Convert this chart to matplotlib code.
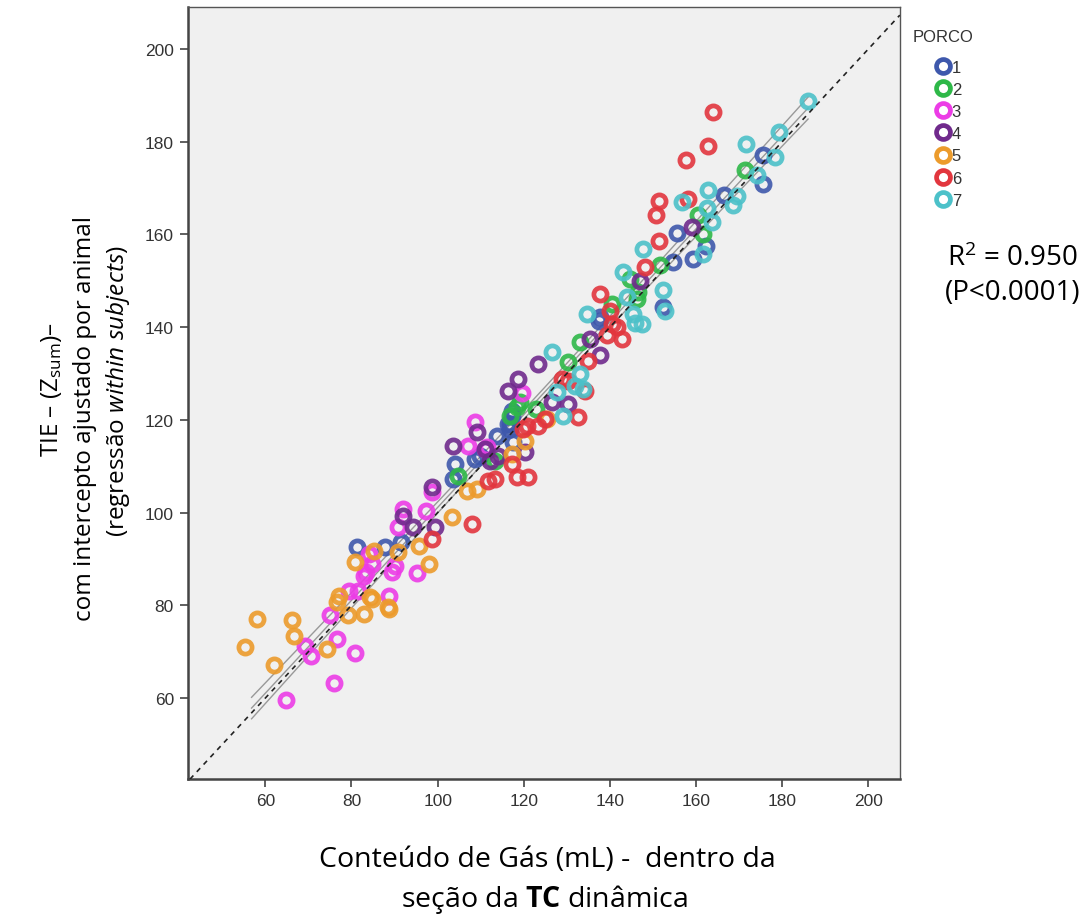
import numpy as np
import matplotlib.pyplot as plt

plt.rcParams['font.family'] = ['Open Sans', 'DejaVu Sans']
plt.rcParams['mathtext.fontset'] = 'custom'
plt.rcParams['mathtext.rm'] = 'Open Sans'
plt.rcParams['mathtext.it'] = 'Open Sans:italic'
plt.rcParams['mathtext.bf'] = 'Open Sans:bold'

# gas content (x) and TIE adjusted (y), one pair of lists per pig
pig1_x = [87.7, 91.6, 81.2, 104.0, 103.5, 109.8, 116.7, 117.4, 113.7, 117.2, 116.3, 116.7,
          137.4, 137.7, 152.3, 154.7, 159.3, 155.6, 162.3, 166.5, 175.6, 175.6, 117.2, 108.6]
pig1_y = [92.5, 93.6, 92.5, 110.4, 107.2, 112.2, 119.1, 115.2, 116.5, 121.9, 119.1, 118.0,
          141.3, 142.1, 144.3, 154.0, 154.6, 160.4, 157.4, 168.6, 177.2, 170.8, 120.8, 111.5]

pig2_x = [104.7, 113.3, 119.1, 116.7, 122.8, 133.0, 130.2, 140.5, 146.3, 146.5, 144.7,
          151.6, 160.5, 161.6, 171.4, 118.4]
pig2_y = [107.8, 111.1, 123.8, 120.8, 122.3, 136.9, 132.4, 144.9, 146.0, 147.5, 150.3,
          153.5, 164.3, 160.0, 174.0, 122.7]

pig3_x = [64.7, 76.0, 80.7, 70.7, 69.1, 76.7, 74.9, 88.6, 95.3, 89.5, 79.5, 81.6, 83.3,
          84.7, 84.0, 83.0, 91.9, 97.4, 90.7, 98.8, 107.0, 108.6, 111.4, 119.5, 90.0, 110.9]
pig3_y = [59.6, 63.2, 69.7, 69.1, 71.2, 72.7, 77.9, 82.0, 86.9, 87.2, 83.1, 83.1, 87.2,
          88.9, 91.0, 86.3, 100.7, 100.3, 96.9, 104.4, 114.3, 119.5, 114.1, 125.8, 88.4, 113.7]

pig4_x = [94.2, 99.3, 98.6, 109.1, 103.5, 110.9, 114.0, 120.2, 116.3, 118.6, 123.3,
          126.5, 130.2, 135.3, 137.7, 147.0, 159.1, 112.1, 91.9]
pig4_y = [96.9, 96.9, 105.5, 117.3, 114.3, 113.7, 112.2, 113.0, 126.2, 128.8, 132.0,
          123.8, 123.4, 137.4, 134.1, 149.9, 161.7, 111.1, 99.2]

pig5_x = [55.3, 58.1, 66.3, 66.7, 62.1, 74.2, 77.0, 76.7, 83.0, 79.1, 80.7, 85.3, 84.2,
          97.9, 95.6, 88.6, 90.9, 103.3, 106.7, 109.1, 117.2, 120.2, 84.7, 88.4, 125.3]
pig5_y = [71.0, 77.0, 76.8, 73.4, 67.1, 70.6, 82.0, 80.7, 78.1, 77.9, 89.3, 91.7, 81.8,
          88.9, 92.8, 79.2, 91.5, 99.0, 104.6, 105.0, 112.6, 115.4, 81.3, 79.6, 120.1]

pig6_x = [98.6, 107.9, 111.6, 113.3, 118.4, 120.9, 117.2, 120.7, 123.3, 119.8, 124.9,
          132.6, 128.8, 134.2, 134.9, 139.3, 141.6, 142.8, 140.0, 137.7, 148.1, 151.4,
          150.7, 151.4, 158.1, 157.7, 162.8, 164.0, 140.5, 130.2]
pig6_y = [94.3, 97.5, 106.8, 107.2, 107.6, 107.6, 110.4, 118.6, 118.6, 118.0, 120.1,
          120.6, 128.8, 126.2, 132.6, 138.4, 140.0, 137.4, 143.4, 147.1, 152.9, 158.5,
          164.3, 167.3, 167.7, 176.0, 179.0, 186.5, 140.6, 128.3]

pig7_x = [126.5, 133.0, 133.7, 127.7, 129.1, 131.9, 134.7, 143.0, 147.7, 144.0, 145.8,
          147.4, 152.3, 152.8, 156.7, 162.8, 169.5, 168.6, 163.7, 161.6, 162.6, 171.6,
          174.2, 178.4, 179.3, 186.0, 145.3]
pig7_y = [134.6, 129.8, 126.6, 126.0, 120.8, 127.2, 142.8, 151.8, 156.8, 146.6, 141.0,
          140.6, 148.1, 143.4, 166.9, 169.5, 168.2, 166.3, 162.6, 155.7, 165.6, 179.6,
          172.9, 176.8, 182.2, 188.7, 142.8]

pigs = ['1', '2', '3', '4', '5', '6', '7']
xs = [pig1_x, pig2_x, pig3_x, pig4_x, pig5_x, pig6_x, pig7_x]
ys = [pig1_y, pig2_y, pig3_y, pig4_y, pig5_y, pig6_y, pig7_y]
colors = ['#3E58AC', '#2EB848', '#EC3CE6', '#702A8C', '#EC9B2C', '#E2363E', '#4CC1C9']

fig = plt.figure(figsize=(10.92, 9.2), dpi=100)
ax = fig.add_axes([0.172, 0.152, 0.652, 0.839])
ax.set_facecolor('#F0F0F0')

handles = []
for x, y, c, name in zip(xs, ys, colors, pigs):
    h, = ax.plot(x, y, 'o', ms=9.5, mfc='none', mec=c, mew=3.4, ls='none',
                 label=name, zorder=3, alpha=0.9)
    handles.append(h)

# identity line
ax.axline((0, 0), slope=1, color='#222222', ls=(0, (3, 3)), lw=1.2, zorder=4)

# regression fit with 95% confidence band
allx = np.concatenate([np.array(v) for v in xs])
ally = np.concatenate([np.array(v) for v in ys])
b, a = np.polyfit(allx, ally, 1)
xx = np.linspace(allx.min() + 1.5, allx.max(), 100)
n = len(allx)
resid = ally - (a + b * allx)
s = np.sqrt(np.sum(resid ** 2) / (n - 2))
se = s * np.sqrt(1 / n + (xx - allx.mean()) ** 2 / np.sum((allx - allx.mean()) ** 2))
ax.plot(xx, a + b * xx, color='#999999', lw=1, zorder=2)
ax.plot(xx, a + b * xx + 1.97 * se, color='#999999', lw=1, zorder=2)
ax.plot(xx, a + b * xx - 1.97 * se, color='#999999', lw=1, zorder=2)

ax.set_xlim(42.0, 207.3)
ax.set_ylim(42.5, 209.0)
ax.set_xticks(range(60, 201, 20))
ax.set_yticks(range(60, 201, 20))
ax.tick_params(direction='out', length=6, width=1.2, color='#444444',
               labelsize=12.5, labelcolor='#333333', pad=4)
for lab in ax.get_xticklabels() + ax.get_yticklabels():
    lab.set_family('Liberation Sans')
for side in ['left', 'bottom']:
    ax.spines[side].set_linewidth(1.8)
    ax.spines[side].set_color('#444444')
for side in ['top', 'right']:
    ax.spines[side].set_linewidth(1)
    ax.spines[side].set_color('#555555')

fig.text(0.501, 0.065, 'Conteúdo de Gás (mL) -  dentro da', ha='center', va='center',
         fontsize=20.5)
fig.text(0.499, 0.022, 'seção da $\\mathbf{TC}$ dinâmica', ha='center', va='center',
         fontsize=20.5)

fig.text(0.047, 0.576, 'TIE – (Z$_{\\mathrm{sum}}$)–', rotation=90, ha='center',
         va='center', fontsize=17.5)
fig.text(0.078, 0.545, 'com intercepto ajustado por animal', rotation=90, ha='center',
         va='center', fontsize=17.5)
fig.text(0.108, 0.575, '(regressão $\\mathit{within\\ subjects}$)', rotation=90,
         ha='center', va='center', fontsize=17.5)

fig.text(913 / 1092, 1 - 37 / 920, 'PORCO', ha='left', va='center', fontsize=12,
         family='Liberation Sans', color='#333333')
leg = fig.legend(handles=handles, loc='upper left',
                 bbox_to_anchor=(0.857, 0.934), frameon=False,
                 prop={'family': 'Liberation Sans', 'size': 12},
                 handlelength=0.8, handletextpad=0.15,
                 labelspacing=0.43, borderpad=0, borderaxespad=0)
for t in leg.get_texts():
    t.set_color('#333333')
for lh in leg.legend_handles:
    lh.set_markersize(10)
    lh.set_alpha(1)

fig.text(0.927, 0.719, 'R$^2$ = 0.950', ha='center', va='center', fontsize=20)
fig.text(0.927, 0.681, '(P<0.0001)', ha='center', va='center', fontsize=20)

fig.savefig('out.png', dpi=100)
